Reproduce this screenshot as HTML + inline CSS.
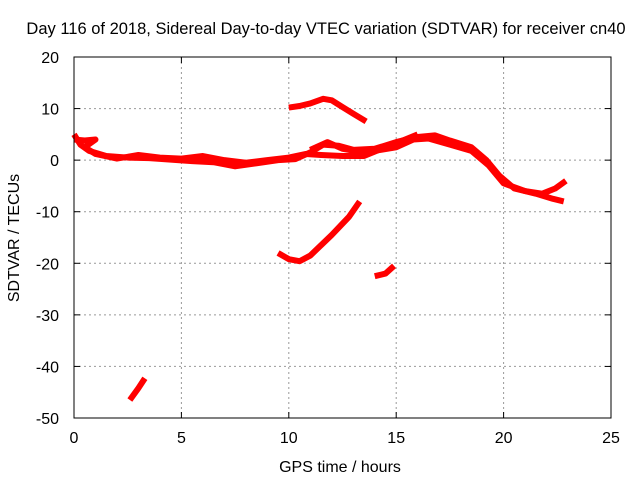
<!DOCTYPE html>
<html><head><meta charset="utf-8"><style>
body{margin:0;background:#fff;}
svg text{font-family:"Liberation Sans",sans-serif;font-size:16px;fill:#000;}
</style></head><body>
<svg id="chart" width="640" height="480" viewBox="0 0 640 480">
<text x="326" y="34" text-anchor="middle" style="font-size:16.5px">Day 116 of 2018, Sidereal Day-to-day VTEC variation (SDTVAR) for receiver cn40</text>
<text x="340" y="472" text-anchor="middle">GPS time / hours</text>
<text transform="translate(19,238) rotate(-90)" text-anchor="middle">SDTVAR / TECUs</text>
<g id="grid"></g><g id="series"></g>
<rect x="74" y="57" width="537" height="361" fill="none" stroke="#000"/>
</svg>
<script>
const xTicks=[0,5,10,15,20,25];
const yTicks=[20,10,0,-10,-20,-30,-40,-50];
const mainA=[[0,5],[0.3,3],[0.7,1.8],[1.5,0.8],[2.5,0.5],[3.5,0.4],[4.5,0.1],[5.5,-0.2],[6.5,-0.4],[7.5,-1.2],[8.5,-0.6],[9.5,0],[10.3,0.2],[11,1.5],[11.6,3],[12.3,2.8],[13,2],[14,2.2],[15,3.5],[16,4.5],[16.8,4.8],[17.5,3.8],[18.5,2.5],[19.2,0],[19.8,-3],[20.5,-5.5],[21.5,-6.5],[22.3,-7.5],[22.8,-8]];
const mainB=[[0,4],[0.5,3.8],[1,4],[0.5,2.5],[1,1.2],[2,0.3],[3,1],[4,0.5],[5,0.3],[6,0.8],[7,0],[8,-0.5],[9,0],[10,0.5],[10.8,1.2],[11.5,1],[12.5,0.8],[13.5,0.8],[14.5,2.5],[15.3,3.8],[16,5]];
const mainC=[[11,2],[11.8,3.5],[12.5,2.2],[13.5,1.5],[14.3,2],[15,2.5],[15.8,4],[16.5,4.2],[17.5,3],[18.5,1.8],[19.3,-1],[20,-4.5],[21,-6],[21.8,-6.5],[22.4,-5.5],[22.9,-4]];
const arcTop=[[10,10.2],[10.5,10.5],[11,11],[11.6,11.9],[12,11.6],[12.5,10.3],[13,9],[13.6,7.5]];
const diag=[[9.5,-18],[10,-19.2],[10.5,-19.6],[11,-18.5],[12,-14.5],[12.8,-11],[13.3,-8]];
const small=[[14,-22.5],[14.5,-22],[14.9,-20.5]];
const bottom=[[2.6,-46.5],[3,-44.2],[3.3,-42.3]];
const X=v=>74+v*537/25, Y=v=>57+(20-v)*361/70;
const ns="http://www.w3.org/2000/svg", svg=document.getElementById('chart');
const grid=document.getElementById('grid'), ser=document.getElementById('series');
function mk(t,a,p){const e=document.createElementNS(ns,t);for(const k in a)e.setAttribute(k,a[k]);p.appendChild(e);return e;}
xTicks.forEach(t=>{const x=X(t);
 if(t>0&&t<25){const g=mk('line',{x1:x,x2:x,y1:57,y2:418,stroke:'#999','stroke-dasharray':'2,3'},grid);
 
 }
 mk('line',{x1:x,x2:x,y1:418,y2:412,stroke:'#000'},grid);mk('line',{x1:x,x2:x,y1:57,y2:63,stroke:'#000'},grid);
 const l=mk('text',{x:x,y:443,'text-anchor':'middle'},svg);l.textContent=t;
 
 });
yTicks.forEach(t=>{const y=Y(t);
 if(t<20&&t>-50){const g=mk('line',{x1:74,x2:611,y1:y,y2:y,stroke:'#999','stroke-dasharray':'2,3'},grid);
 
 }
 mk('line',{x1:74,x2:80,y1:y,y2:y,stroke:'#000'},grid);mk('line',{x1:611,x2:605,y1:y,y2:y,stroke:'#000'},grid);
 const l=mk('text',{x:59,y:y+6,'text-anchor':'end'},svg);l.textContent=t;
 
 });
[[mainA,'series-main-a'],[mainB,'series-main-b'],[mainC,'series-main-c'],[arcTop,'series-arc-top'],[diag,'series-diagonal'],[small,'series-small'],[bottom,'series-bottom']].forEach(([d,n])=>{
 const p=mk('polyline',{points:d.map(q=>X(q[0])+','+Y(q[1])).join(' '),fill:'none',stroke:'#f00','stroke-width':6,'stroke-linejoin':'round'},ser);
 
 });
</script>
</body></html>
